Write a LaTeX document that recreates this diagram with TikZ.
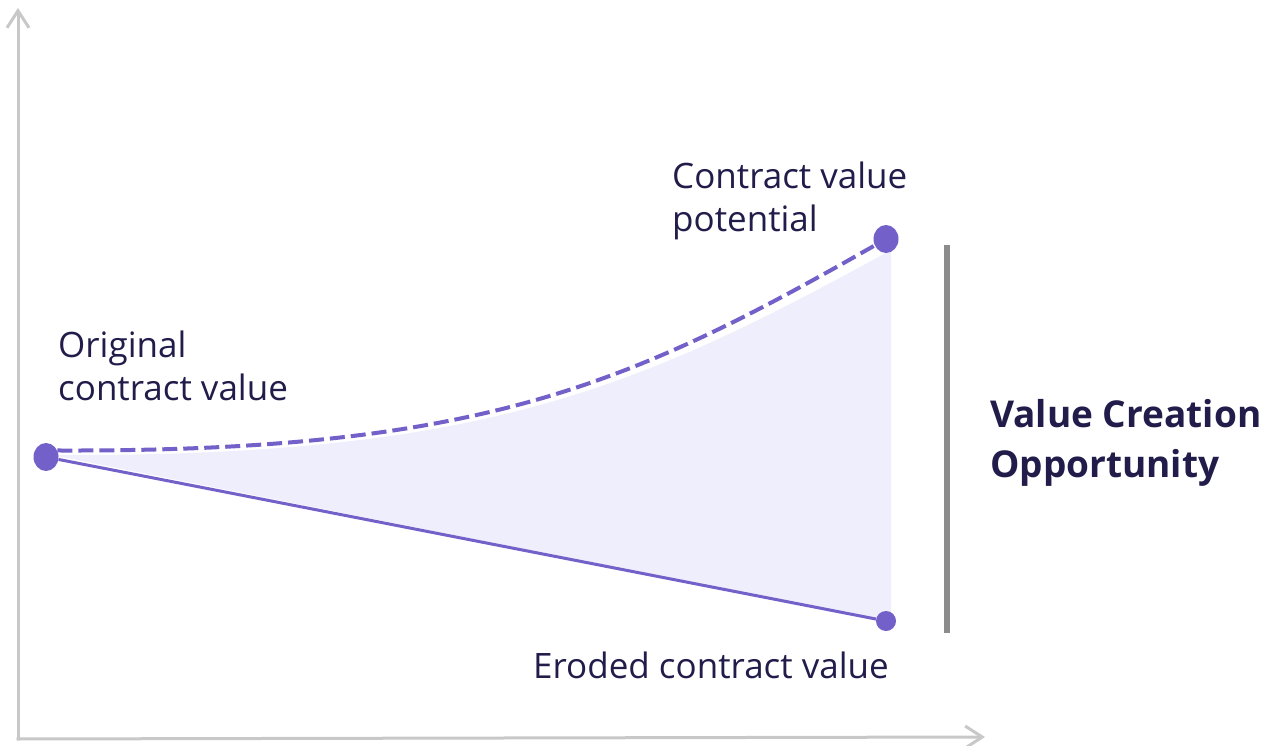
\documentclass[tikz,border=0pt]{standalone}
\usepackage{fontspec}
\setmainfont{Open Sans}
\usetikzlibrary{arrows.meta,shapes.geometric,positioning}
\definecolor{ctrpurple}{HTML}{7360C9}
\definecolor{ctrfill}{HTML}{EEEEFC}
\definecolor{ctrink}{HTML}{211C4A}
\definecolor{axisgrey}{HTML}{C8C8C8}
\definecolor{bargrey}{HTML}{8C8C8C}
\begin{document}
\begin{tikzpicture}[x=1pt,y=-1pt]
\tikzstyle{dot}=[ellipse,fill=ctrpurple,inner sep=0pt,minimum width=25pt,minimum height=28pt]
\tikzstyle{lbl}=[anchor=base west,inner sep=0pt,align=left,text=ctrink,font=\fontsize{35}{43}\selectfont]
\tikzstyle{axis}=[draw=axisgrey,line width=3pt,-{Straight Barb[length=17pt,width=22pt]}]
\useasboundingbox (0,0) rectangle (1274,746);
\coordinate (o) at (18,739);
\coordinate (ytip) at (18,8);
\coordinate (xtip) at (985,737);
\draw[axis] (o) -- (ytip);
\draw[axis] ([xshift=-1.5pt]o) -- (xtip);
% shaded gap
\fill[ctrfill] (52,455) .. controls (480,457) and (635,391) .. (891,250) -- (891,622) -- cycle;
\node[dot] (orig) at (46,457) {};
\node[dot] (pot) at (886,239) {};
\node[dot,minimum width=20pt,minimum height=20pt] (erod) at (886,621) {};
\draw[ctrpurple,line width=3pt] (orig) -- (erod);
\draw[ctrpurple,line width=4pt,dash pattern=on 15pt off 6pt] (orig.30) .. controls (480,452) and (630,385) .. (pot);
\draw[bargrey,line width=6.5pt] (947,245) -- (947,633);
% base = last line
\node[lbl] (potlbl) at (672,231) {Contract value\\potential};
\node[lbl] (origlbl) at (58,400) {Original\\contract value};
\node[lbl] (erodlbl) at (533,678) {Eroded contract value};
\node[lbl,font=\bfseries\fontsize{37}{50}\selectfont] (vco) at (990,477) {Value Creation\\Opportunity};
\end{tikzpicture}
\end{document}
